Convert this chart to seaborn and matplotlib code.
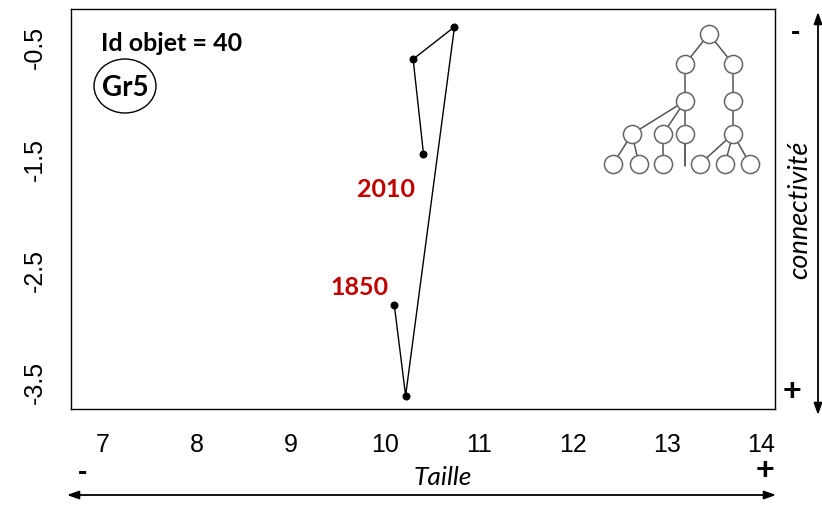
import matplotlib
matplotlib.use("Agg")
import matplotlib.pyplot as plt
from matplotlib.patches import Ellipse
import seaborn as sns
import pandas as pd

# trajectory of object 40 (1850 -> 2010)
taille = [10.10, 10.22, 10.74, 10.30, 10.41]
connectivite = [-2.82, -3.63, -0.32, -0.61, -1.46]
years = ["1850", "", "", "", "2010"]

x_ticks = [7, 8, 9, 10, 11, 12, 13, 14]
y_ticks = [-3.5, -3.0, -2.5, -2.0, -1.5, -1.0, -0.5]
y_labels = ["-3.5", "", "-2.5", "", "-1.5", "", "-0.5"]

# small tree icon (pixel layout inside the icon box)
tree_nodes = [(709, 35), (685, 65), (733, 65), (685, 102), (733, 102),
              (632, 135), (663, 135), (685, 135), (733, 135),
              (613, 165), (639, 165), (663, 165), (700, 165), (725, 165), (750, 165)]
tree_edges = [(0, 1), (0, 2), (1, 3), (2, 4), (3, 5), (3, 6), (3, 7), (4, 8),
              (5, 9), (5, 10), (6, 11), (8, 12), (8, 13), (8, 14)]
tree_stub = ((685, 135), (685, 167))

df = pd.DataFrame({"taille": taille, "connectivite": connectivite, "year": years})

sns.set_style("white")
plt.rcParams["font.family"] = ["Liberation Sans", "DejaVu Sans"]
plt.rcParams["text.color"] = "black"

W, H = 822, 506
fig = plt.figure(figsize=(W / 100, H / 100), dpi=100)
ax = fig.add_axes([71 / W, 1 - 410 / H, (775 - 71) / W, (410 - 10) / H])

sns.lineplot(data=df, x="taille", y="connectivite", sort=False, estimator=None,
             color="black", linewidth=1, marker="o", markersize=5,
             markeredgecolor="black", ax=ax)

ax.set_xlim(6.66, 14.15)
ax.set_ylim(-3.75, -0.16)
ax.set_xticks(x_ticks)
ax.set_xticklabels([str(t) for t in x_ticks], fontsize=18)
ax.set_yticks(y_ticks)
ax.set_yticklabels(y_labels, fontsize=18, rotation=90, va="center")
ax.tick_params(direction="out", length=8.6, width=1, colors="black")
ax.tick_params(axis="x", pad=8)
ax.tick_params(axis="y", pad=8.5)
ax.set_xlabel("")
ax.set_ylabel("")
for s in ax.spines.values():
    s.set_visible(True)
    s.set_color("black")
    s.set_linewidth(1)

# year labels (first and last point)
lab_font = ["Lato", "DejaVu Sans"]
ax.text(9.73, -2.65, df["year"].iloc[0], color="#c00000", fontsize=18, fontweight="bold",
        ha="center", va="center", family=lab_font)
ax.text(10.01, -1.77, df["year"].iloc[-1], color="#c00000", fontsize=18, fontweight="bold",
        ha="center", va="center", family=lab_font)

# header text and group circle
fig.text(172 / W, 1 - 44 / H, "Id objet = 40", fontsize=18, fontweight="bold",
         ha="center", va="center", family=lab_font)
fig.add_artist(Ellipse((125 / W, 1 - 87 / H), 62 / W, 54 / H,
                       transform=fig.transFigure, fill=False, color="black", lw=1))
fig.text(125 / W, 1 - 88 / H, "Gr5", fontsize=20, fontweight="bold",
         ha="center", va="center", family=lab_font)

# tree icon
tx0, tx1, ty0, ty1 = 600, 765, 22, 178
tax = fig.add_axes([tx0 / W, 1 - ty1 / H, (tx1 - tx0) / W, (ty1 - ty0) / H])
tax.set_xlim(tx0, tx1)
tax.set_ylim(ty1, ty0)
tax.axis("off")
for a, b in tree_edges:
    (x1, y1), (x2, y2) = tree_nodes[a], tree_nodes[b]
    tax.plot([x1, x2], [y1, y2], color="#555555", lw=1.1, zorder=1)
tax.plot([tree_stub[0][0], tree_stub[1][0]], [tree_stub[0][1], tree_stub[1][1]],
         color="#333333", lw=1.1, zorder=1)
tax.scatter([p[0] for p in tree_nodes], [p[1] for p in tree_nodes], s=170,
            facecolor="white", edgecolor="#666666", linewidth=1.1, zorder=2)

# axis arrows and direction signs
arrow = dict(arrowstyle="<|-|>,head_length=0.7,head_width=0.25", color="black",
             lw=1.3, shrinkA=0, shrinkB=0)
fig.add_artist(plt.Annotation("", xy=(776 / W, 1 - 496 / H), xytext=(67 / W, 1 - 496 / H),
                              xycoords="figure fraction", arrowprops=arrow))
fig.add_artist(plt.Annotation("", xy=(818 / W, 1 - 416 / H), xytext=(818 / W, 1 - 13 / H),
                              xycoords="figure fraction", arrowprops=arrow))
fig.text(443 / W, 1 - 478 / H, "Taille", fontsize=19, style="italic",
         ha="center", va="center", family=lab_font)
fig.text(800 / W, 1 - 210 / H, "connectivité", fontsize=19.5, style="italic",
         rotation=90, ha="center", va="center", family=lab_font)
fig.text(82 / W, 1 - 473 / H, "-", fontsize=20, fontweight="bold", ha="center", va="center")
fig.text(765 / W, 1 - 471 / H, "+", fontsize=23, fontweight="bold", ha="center", va="center")
fig.text(795 / W, 1 - 33 / H, "-", fontsize=20, fontweight="bold", ha="center", va="center")
fig.text(792 / W, 1 - 392 / H, "+", fontsize=23, fontweight="bold", ha="center", va="center")

fig.savefig("out.png", dpi=100)
